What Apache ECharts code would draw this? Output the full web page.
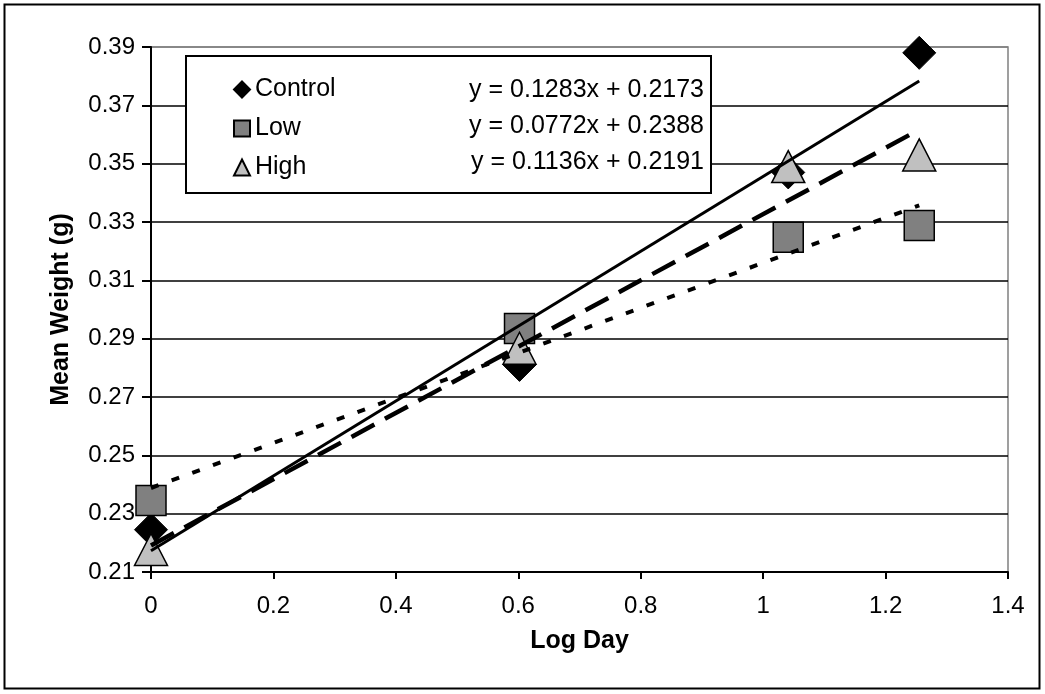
<!DOCTYPE html>
<html>
<head>
<meta charset="utf-8">
<script src="https://cdn.jsdelivr.net/npm/echarts@6/dist/echarts.min.js"></script>
<style>
html,body{margin:0;padding:0;background:#fff;}
#chart{width:1045px;height:694px;}
</style>
</head>
<body>
<div id="chart"></div>
<script>
// ---- data ----
var logDay = [0, 0.602, 1.041, 1.255];
var seriesNames = ['Control', 'Low', 'High'];
var controlWeight = [0.2245, 0.281, 0.347, 0.388];
var lowWeight = [0.2345, 0.2935, 0.3248, 0.3288];
var highWeight = [0.2177, 0.2867, 0.349, 0.353];
var trendSlopes = [0.1283, 0.0772, 0.1136];
var trendIntercepts = [0.2173, 0.2388, 0.2191];
var xTickLabels = ['0', '0.2', '0.4', '0.6', '0.8', '1', '1.2', '1.4'];
var yTickLabels = ['0.21', '0.23', '0.25', '0.27', '0.29', '0.31', '0.33', '0.35', '0.37', '0.39'];

var FONT = 'Liberation Sans, Arial, sans-serif';
var values = [controlWeight, lowWeight, highWeight];

function pts(ys) { return logDay.map(function (x, i) { return [x, ys[i]]; }); }
function trend(k) {
  var x0 = logDay[0], x1 = logDay[logDay.length - 1];
  return [[x0, trendSlopes[k] * x0 + trendIntercepts[k]], [x1, trendSlopes[k] * x1 + trendIntercepts[k]]];
}

var markerStyles = [
  { symbol: 'diamond', size: [33, 33], itemStyle: { color: '#000000', borderColor: '#000000', borderWidth: 1, opacity: 1 } },
  { symbol: 'rect', size: [30, 30], itemStyle: { color: '#808080', borderColor: '#000000', borderWidth: 1.5, opacity: 1 } },
  { symbol: 'triangle', size: [33, 32], itemStyle: { color: '#C0C0C0', borderColor: '#000000', borderWidth: 1.5, opacity: 1 } }
];
var trendStyles = [
  { width: 3, type: 'solid' },
  { width: 4, type: [8, 14] },
  { width: 4.5, type: [26, 12] }
];

var series = [];
seriesNames.forEach(function (name, k) {
  series.push({
    name: name,
    type: 'scatter',
    xAxisIndex: 0, yAxisIndex: 0,
    symbol: markerStyles[k].symbol,
    symbolSize: markerStyles[k].size,
    itemStyle: markerStyles[k].itemStyle,
    data: pts(values[k]),
    z: 2 + k * 0.1,
    silent: true
  });
});
seriesNames.forEach(function (name, k) {
  series.push({
    name: name + ' trend',
    type: 'line',
    xAxisIndex: 0, yAxisIndex: 0,
    showSymbol: false,
    symbol: 'none',
    lineStyle: { color: '#000000', width: trendStyles[k].width, type: trendStyles[k].type, cap: 'butt', opacity: 1 },
    data: trend(k),
    z: 3,
    silent: true
  });
});

var eqY = [90, 126, 162];
var graphics = [
  { type: 'rect', z: 1, silent: true, shape: { x: 4.5, y: 4.5, width: 1035, height: 684 },
    style: { fill: 'none', stroke: '#000', lineWidth: 2 } },
  { type: 'rect', z: 5, silent: true, shape: { x: 186, y: 56, width: 525, height: 137 },
    style: { fill: '#fff', stroke: '#000', lineWidth: 2 } }
];
seriesNames.forEach(function (name, k) {
  graphics.push({
    type: 'text', z: 10, silent: true, x: 704, y: eqY[k],
    style: {
      text: 'y = ' + trendSlopes[k].toFixed(4) + 'x + ' + trendIntercepts[k].toFixed(4),
      fill: '#000', font: '25px ' + FONT, align: 'right', verticalAlign: 'middle'
    }
  });
});

var chart = echarts.init(document.getElementById('chart'), null, { renderer: 'canvas' });
chart.setOption({
  backgroundColor: '#ffffff',
  animation: false,
  textStyle: { fontFamily: FONT },
  grid: { left: 151, right: 37, top: 47, bottom: 122, show: true, borderColor: '#808080', borderWidth: 1.5, backgroundColor: 'transparent' },
  legend: {
    data: seriesNames.map(function (n, k) {
      return { name: n, icon: markerStyles[k].symbol };
    }),
    orient: 'vertical', left: 233, top: 77, z: 10,
    itemWidth: 16, itemHeight: 16, itemGap: 14, padding: 0,
    textStyle: { fontSize: 25, color: '#000', fontFamily: FONT, lineHeight: 25 },
    selectedMode: false
  },
  xAxis: {
    type: 'value', min: 0, max: 1.4, interval: 0.2,
    name: 'Log Day', nameLocation: 'middle', nameGap: 57,
    nameTextStyle: { fontSize: 25, fontWeight: 'bold', color: '#000', fontFamily: FONT },
    axisLine: { onZero: false, lineStyle: { color: '#000', width: 2 } },
    axisTick: { show: true, length: 7, inside: false, lineStyle: { color: '#000', width: 2 } },
    axisLabel: { fontSize: 24, color: '#000', margin: 22, fontFamily: FONT,
      formatter: function (v) { var i = Math.round(v / 0.2); return xTickLabels[i] !== undefined ? xTickLabels[i] : ''; } },
    splitLine: { show: false }
  },
  yAxis: [
    { type: 'value', min: 0.21, max: 0.39, show: false, splitLine: { show: false } },
    {
      type: 'category', data: yTickLabels, boundaryGap: false, position: 'left',
      name: 'Mean Weight (g)', nameLocation: 'middle', nameGap: 77, nameRotate: 90,
      nameTextStyle: { fontSize: 25, fontWeight: 'bold', color: '#000', fontFamily: FONT },
      axisLine: { show: true, lineStyle: { color: '#000', width: 2 } },
      axisTick: { show: true, length: 9, inside: false, lineStyle: { color: '#000', width: 2 } },
      axisLabel: { fontSize: 24, color: '#000', margin: 16, fontFamily: FONT, interval: 0 },
      splitLine: { show: true, interval: 0, lineStyle: { color: ['#000', '#000', '#000', '#000', '#000', '#000', '#000', '#000', '#000', '#808080'], width: 1.5 } }
    }
  ],
  graphic: graphics,
  series: series
});
</script>
</body>
</html>
